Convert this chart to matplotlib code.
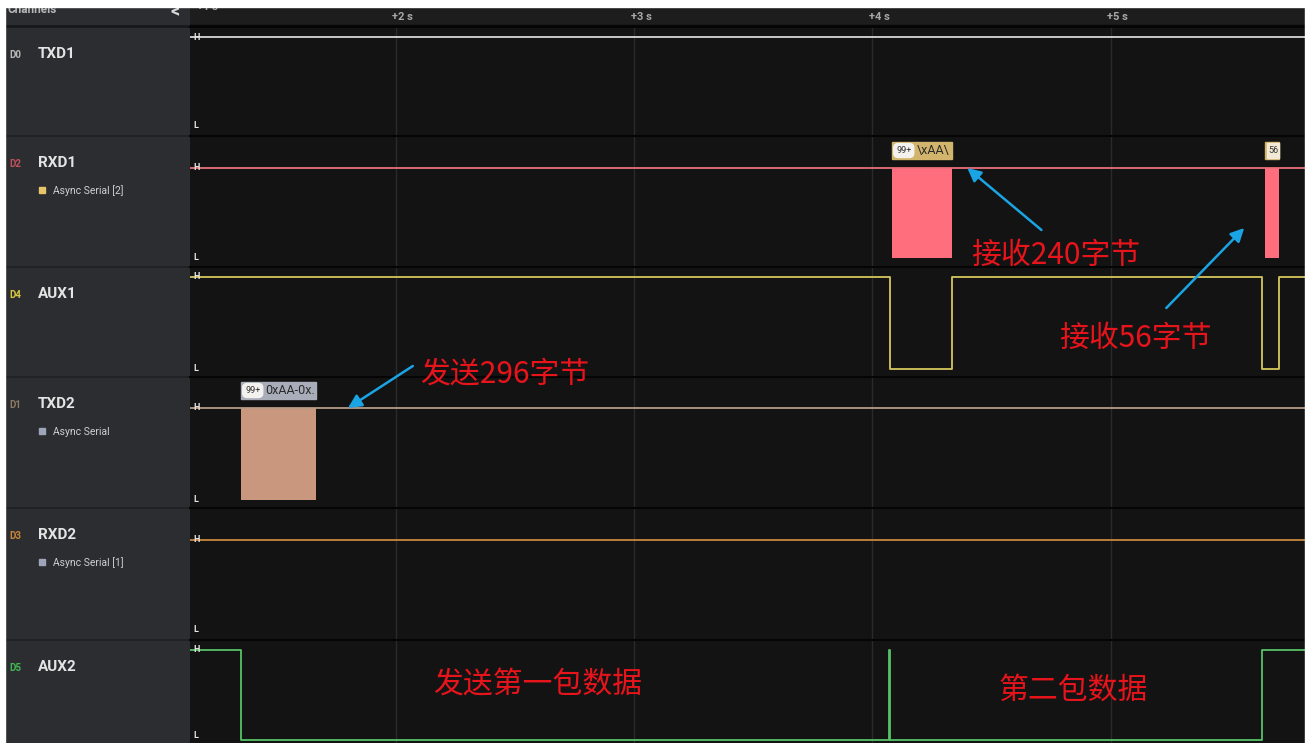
import numpy as np
import matplotlib.pyplot as plt
from matplotlib.patches import Rectangle, FancyBboxPatch

plt.rcParams['font.family'] = ['Roboto', 'DejaVu Sans']

W, H = 1307, 743

# time window shown (seconds) and the second marks in the header
t_view = [1.136, 5.815]
sec_ticks = [2, 3, 4, 5]
tick_labels = ['+2 s', '+3 s', '+4 s', '+5 s']

# channels, top to bottom
ch_ids = ['D0', 'D2', 'D4', 'D1', 'D3', 'D5']
ch_names = ['TXD1', 'RXD1', 'AUX1', 'TXD2', 'RXD2', 'AUX2']
ch_analyzers = [None, 'Async Serial [2]', None, 'Async Serial', 'Async Serial [1]', None]

# digital levels (step, post) for each channel
txd1_t = [1.136, 5.815]
txd1_v = [1, 1]
rxd1_t = [1.136, 5.815]
rxd1_v = [1, 1]
aux1_t = [1.136, 4.073, 4.334, 5.634, 5.705, 5.815]
aux1_v = [1, 0, 1, 0, 1, 1]
txd2_t = [1.136, 5.815]
txd2_v = [1, 1]
rxd2_t = [1.136, 5.815]
rxd2_v = [1, 1]
aux2_t = [1.136, 1.351, 4.071, 4.075, 5.634, 5.815]
aux2_v = [1, 0, 1, 0, 1, 1]

# decoded serial bursts (start, end) and their bubble text
rxd1_bursts = [(4.083, 4.335), (5.648, 5.705)]
rxd1_bubbles = [('99+', '\\xAA\\'), (None, '56')]
txd2_bursts = [(1.351, 1.664)]
txd2_bubbles = [('99+', '0xAA-0x.')]

# notes drawn on top
notes = ['接收240字节', '接收56字节', '发送296字节', '发送第一包数据', '第二包数据']
note_t = [4.771, 5.103, 2.457, 2.595, 4.843]
note_y = [255, 338, 374, 685, 690]
arrow_from = [(4.709, 230), (5.233, 308), (2.071, 366)]
arrow_to = [(4.398, 168), (5.560, 228), (1.799, 408)]

sig_t = [txd1_t, rxd1_t, aux1_t, txd2_t, rxd2_t, aux2_t]
sig_v = [txd1_v, rxd1_v, aux1_v, txd2_v, rxd2_v, aux2_v]
line_col = ['#d8d8d8', '#e8707a', '#d6c65e', '#b89c86', '#c8873c', '#56c266']
id_col = ['#b8b8b8', '#c0505c', '#d8c840', '#8c7a62', '#c8863a', '#3fb850']
an_col = [None, '#e6c46a', None, '#9ea4ba', '#9ea4ba', None]

# layout in pixels
row_y = [27, 136, 267, 377, 508, 640, 743]
pad_top = [10, 32, 10, 31, 32, 10]
pad_bot = [10, 9, 8, 8, 10, 3]
x_plot = 190
x_right = 1305

fig = plt.figure(figsize=(W / 100, H / 100), dpi=100)
fig.patch.set_facecolor('#070707')
# white border strips of the screenshot
fig.add_artist(Rectangle((0, H - 7), W, 7, transform=None, color='white', zorder=20))
fig.add_artist(Rectangle((0, 0), 5, H, transform=None, color='white', zorder=20))
fig.add_artist(Rectangle((x_right, 0), W - x_right, H, transform=None, color='white', zorder=20))

def fax(x0, y0, x1, y1, **kw):
    return fig.add_axes([x0 / W, 1 - y1 / H, (x1 - x0) / W, (y1 - y0) / H], **kw)

def bare(ax, fc):
    ax.set_facecolor(fc)
    ax.set_xticks([])
    ax.set_yticks([])
    for s in ax.spines.values():
        s.set_visible(False)

# left panel
left = fax(5, 7, x_plot, 743)
left.set_xlim(5, x_plot)
left.set_ylim(743, 7)
bare(left, '#2c2d31')
left.axhline(26, color='#17181a', lw=2)
left.text(7, 9, 'Channels', color='#b8b8b8', fontsize=8.5, fontweight='bold',
          va='center', ha='left', clip_on=True)
left.text(175, 11, '<', color='#d8d8d8', fontsize=13, fontweight='bold',
          va='center', ha='center', clip_on=True)
for i in range(6):
    top = row_y[i]
    if i > 0:
        left.axhline(top, color='#1f2023', lw=1.2)
    left.text(9, top + 28, ch_ids[i], color=id_col[i], fontsize=7,
              fontweight='bold', va='center')
    left.text(38, top + 27, ch_names[i], color='#e4e4e4', fontsize=11,
              fontweight='bold', va='center')
    if ch_analyzers[i]:
        left.add_patch(Rectangle((39, top + 51), 6, 6, color=an_col[i]))
        left.text(53, top + 54.5, ch_analyzers[i], color='#d0d0d0',
                  fontsize=7.5, va='center')

# time header
hdr = fax(x_plot, 7, x_right, 27)
hdr.set_xlim(t_view)
hdr.set_ylim(27, 7)
bare(hdr, '#1d1d1e')
hdr.axhline(26, color='#080808', lw=2.5)
for t, lab in zip(sec_ticks, tick_labels):
    hdr.text(t - 0.015, 17, lab, color='#a8a8a8', fontsize=8,
             fontweight='bold', va='center', ha='left')
hdr.text(1.165, 7, '+1 s', color='#a8a8a8', fontsize=8,
         fontweight='bold', va='center', ha='left', clip_on=True)

# signal rows
for i in range(6):
    y0, y1 = row_y[i], row_y[i + 1]
    span = (y1 - y0) - pad_top[i] - pad_bot[i]
    ax = fax(x_plot, y0, x_right, y1)
    bare(ax, '#131313')
    ax.set_xlim(t_view)
    ax.set_ylim(-pad_bot[i] / span, 1 + pad_top[i] / span)
    ax.spines['top'].set_visible(True)
    ax.spines['top'].set_color('#050505')
    ax.spines['top'].set_linewidth(1.5)
    for t in sec_ticks:
        ax.axvline(t, color='#2a2a2a', lw=1, zorder=0)
    ax.step(sig_t[i], sig_v[i], where='post', color=line_col[i], lw=1.3, zorder=3)
    ax.text(1.162, 1, 'H', color='#e8e8e8', fontsize=6.5, fontweight='bold',
            va='center', ha='center', zorder=4)
    ax.text(1.162, 0.005 if i < 5 else 0.0, 'L', color='#e8e8e8', fontsize=6.5,
            fontweight='bold', va='center' if i < 5 else 'bottom', ha='center', zorder=4)
    if i == 1:
        for a, b in rxd1_bursts:
            ax.fill_between([a, b], 0, 1, color='#ff6e7c', lw=0, zorder=2)
    if i == 3:
        for a, b in txd2_bursts:
            ax.fill_between([a, b], 0, 1, color='#c8977e', lw=0, zorder=2)

# overlay for bubbles and notes (x in seconds, y in pixels)
ov = fax(x_plot, 27, x_right, 743)
ov.set_xlim(t_view)
ov.set_ylim(743, 27)
ov.patch.set_alpha(0)
ov.axis('off')

px = (t_view[1] - t_view[0]) / (x_right - x_plot)

def bubble(t0, t1, ytop, badge, text, col):
    ov.add_patch(Rectangle((t0, ytop), t1 - t0, 17, color=col, zorder=5))
    tx = t0 + 2 * px
    if badge:
        ov.add_patch(FancyBboxPatch((t0 + 1.5 * px, ytop + 1.5), 20 * px, 14,
                                    boxstyle='round,pad=0,rounding_size=0.02',
                                    mutation_aspect=200, color='#f4f2ee', zorder=6))
        ov.text(t0 + 11.5 * px, ytop + 9, badge, color='#333333', fontsize=6.5,
                ha='center', va='center', zorder=7)
        tx = t0 + 24 * px
    if badge is None:
        ov.add_patch(Rectangle((t0 + 2 * px, ytop + 1), (t1 - t0) - 2 * px, 15,
                               color='#f2ead6', zorder=6))
        ov.text((t0 + t1) / 2 + 1 * px, ytop + 9, text, color='#333333',
                fontsize=6.5, ha='center', va='center', zorder=7)
    else:
        ov.text(tx, ytop + 9, text, color='#2a2a2a', fontsize=9,
                ha='left', va='center', zorder=7, clip_on=True)

for (a, b), (bd, tx) in zip(rxd1_bursts, rxd1_bubbles):
    bubble(a, b, 142, bd, tx, '#d2b46c')
for (a, b), (bd, tx) in zip(txd2_bursts, txd2_bubbles):
    bubble(a, b, 382, bd, tx, '#a9adb9')

for (x0, y0), (x1, y1) in zip(arrow_from, arrow_to):
    ov.annotate('', xy=(x1, y1), xytext=(x0, y0),
                arrowprops=dict(arrowstyle='-|>', color='#1ba4e4', lw=1.8,
                                mutation_scale=20, shrinkA=0, shrinkB=0),
                zorder=8)

for s, t, y in zip(notes, note_t, note_y):
    ov.text(t, y, s, color='#e8141c', fontsize=21.5, ha='center', va='center',
            family=['Noto Sans CJK SC', 'DejaVu Sans'], zorder=9)

fig.savefig('out.png', dpi=100, facecolor=fig.get_facecolor())
